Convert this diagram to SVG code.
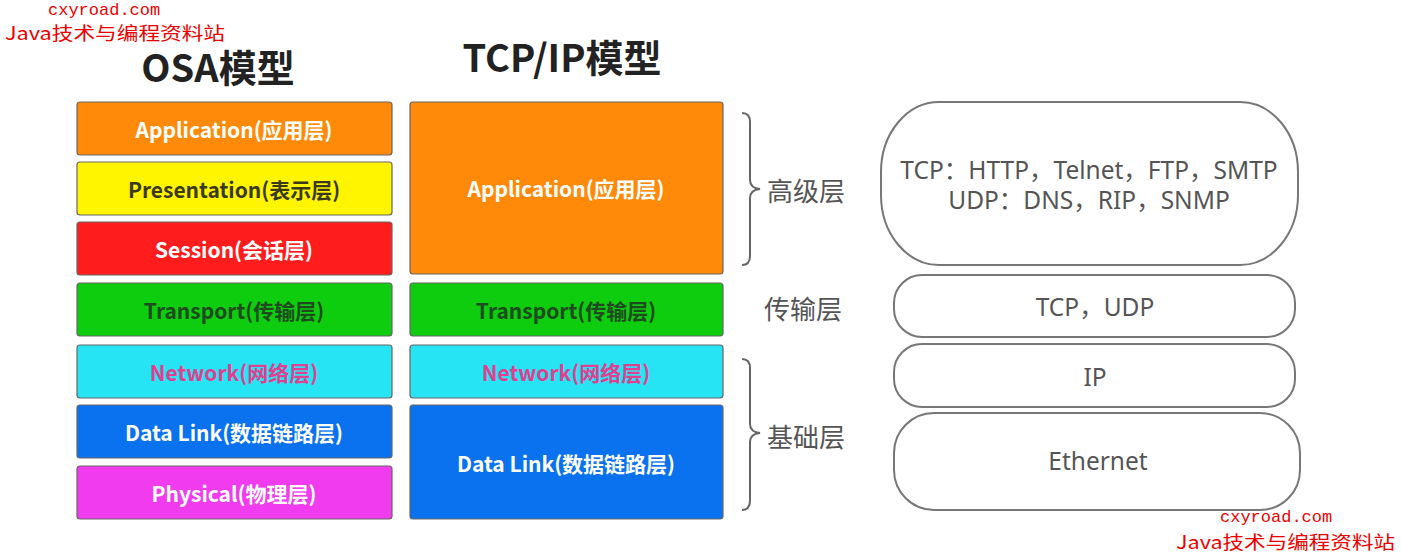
<svg xmlns="http://www.w3.org/2000/svg" width="1401" height="557" viewBox="0 0 1401 557">
<style>
.box{stroke:#666;stroke-width:1.2}
.bt{font-family:"Noto Sans CJK SC","Liberation Sans",sans-serif;font-weight:bold;font-size:21px;text-anchor:middle;dominant-baseline:central}
.title{font-family:"Noto Sans CJK SC","Liberation Sans",sans-serif;font-weight:bold;font-size:38px;fill:#222;text-anchor:middle}
.lbl{font-family:"Noto Sans CJK SC",sans-serif;font-size:26px;fill:#555;dominant-baseline:central}
.pill{fill:#fff;stroke:#777;stroke-width:2}
.pt{font-family:"Noto Sans","Noto Sans CJK SC",sans-serif;font-size:24.5px;fill:#555;text-anchor:middle;dominant-baseline:central}
.brace{fill:none;stroke:#666;stroke-width:2}
.wm1{font-family:"Liberation Mono",monospace;font-size:17px;fill:#e00}
.wm2{font-family:"Noto Sans CJK SC",sans-serif;font-size:18px;fill:#e00}
</style>
<rect width="1401" height="557" fill="#fff"/>

<text class="wm1" x="48" y="15">cxyroad.com</text>
<text class="wm2" x="5" y="40" textLength="220" lengthAdjust="spacingAndGlyphs">Java技术与编程资料站</text>

<text class="title" x="218" y="82">OSA模型</text>
<text class="title" x="562" y="72">TCP/IP模型</text>

<g id="osi-application"><rect class="box" x="77" y="102" width="315" height="53" rx="3" fill="#FF8A0A"/><text class="bt" x="234" y="129" fill="#fff">Application(应用层)</text></g>
<g id="osi-presentation"><rect class="box" x="77" y="162" width="315" height="53" rx="3" fill="#FFF500"/><text class="bt" x="234" y="189" fill="#3a3a1a">Presentation(表示层)</text></g>
<g id="osi-session"><rect class="box" x="77" y="222" width="315" height="53" rx="3" fill="#FF1C1C"/><text class="bt" x="234" y="249" fill="#fff">Session(会话层)</text></g>
<g id="osi-transport"><rect class="box" x="77" y="283" width="315" height="53" rx="3" fill="#0ECC0E"/><text class="bt" x="234" y="310" fill="#1f4a1f">Transport(传输层)</text></g>
<g id="osi-network"><rect class="box" x="77" y="345" width="315" height="53" rx="3" fill="#26E4F4"/><text class="bt" x="234" y="372" fill="#e0408f">Network(网络层)</text></g>
<g id="osi-datalink"><rect class="box" x="77" y="405" width="315" height="53" rx="3" fill="#0A72EE"/><text class="bt" x="234" y="432" fill="#fff">Data Link(数据链路层)</text></g>
<g id="osi-physical"><rect class="box" x="77" y="466" width="315" height="53" rx="3" fill="#F03CEE"/><text class="bt" x="234" y="493" fill="#fff">Physical(物理层)</text></g>

<g id="tcp-application"><rect class="box" x="410" y="102" width="313" height="172" rx="3" fill="#FF8A0A"/><text class="bt" x="566" y="188" fill="#fff">Application(应用层)</text></g>
<g id="tcp-transport"><rect class="box" x="410" y="283" width="313" height="53" rx="3" fill="#0ECC0E"/><text class="bt" x="566" y="310" fill="#1f4a1f">Transport(传输层)</text></g>
<g id="tcp-network"><rect class="box" x="410" y="345" width="313" height="53" rx="3" fill="#26E4F4"/><text class="bt" x="566" y="372" fill="#e0408f">Network(网络层)</text></g>
<g id="tcp-datalink"><rect class="box" x="410" y="405" width="313" height="114" rx="3" fill="#0A72EE"/><text class="bt" x="566" y="463" fill="#fff">Data Link(数据链路层)</text></g>

<g id="connectors">
<path class="brace" d="M742,113 Q750,113 750,122 L750,180 Q750,188 760,189 Q750,190 750,198 L750,256 Q750,265 742,265"/>
<path class="brace" d="M742,359 Q750,359 750,368 L750,424 Q750,432 760,433 Q750,434 750,442 L750,500 Q750,510 742,510"/>
</g>

<g id="lbl-high"><text class="lbl" x="767" y="189">高级层</text></g>
<g id="lbl-trans"><text class="lbl" x="764" y="307">传输层</text></g>
<g id="lbl-base"><text class="lbl" x="767" y="435">基础层</text></g>

<g id="pill-app"><rect class="pill" x="881" y="102" width="417" height="163" rx="58" ry="70"/>
<text class="pt" x="1089" y="169">TCP：HTTP，Telnet，FTP，SMTP</text>
<text class="pt" x="1089" y="199">UDP：DNS，RIP，SNMP</text></g>
<g id="pill-tcp"><rect class="pill" x="894" y="275" width="401" height="62" rx="28"/><text class="pt" x="1095" y="306">TCP，UDP</text></g>
<g id="pill-ip"><rect class="pill" x="894" y="344" width="401" height="63" rx="28"/><text class="pt" x="1095" y="376">IP</text></g>
<g id="pill-eth"><rect class="pill" x="894" y="413" width="406" height="97" rx="40"/><text class="pt" x="1098" y="460">Ethernet</text></g>

<text class="wm1" x="1220" y="522">cxyroad.com</text>
<text class="wm2" x="1176" y="549" textLength="219" lengthAdjust="spacingAndGlyphs">Java技术与编程资料站</text>
</svg>
